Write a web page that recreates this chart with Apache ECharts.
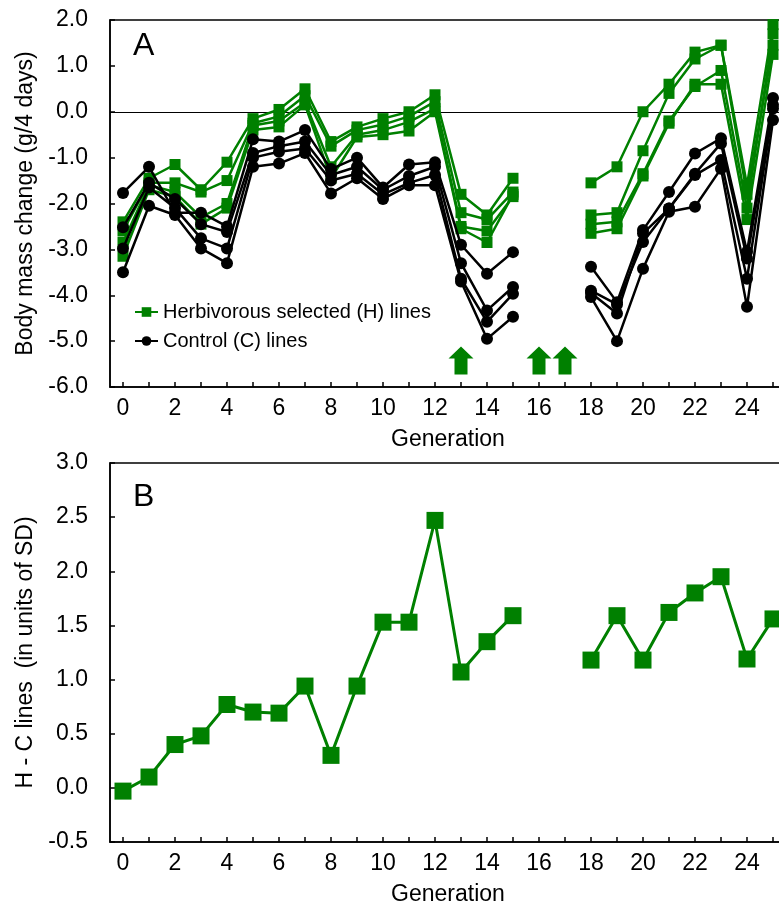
<!DOCTYPE html>
<html>
<head>
<meta charset="utf-8">
<script src="https://cdn.jsdelivr.net/npm/echarts@6/dist/echarts.min.js"></script>
<style>
html,body{margin:0;padding:0;background:#fff;}
#chart{width:779px;height:915px;}
</style>
</head>
<body>
<div id="chart"></div>
<script>
// ---- Data ----
const generations = ['0','1','2','3','4','5','6','7','8','9','10','11','12','13','14','15','16','17','18','19','20','21','22','23','24','25'];

// Panel A: herbivorous selected (H) lines, g/4 days (null = not measured)
const H1 = [-2.40,-1.45,-1.15,-1.70,-1.10,-0.15, 0.05, 0.50,-0.65,-0.33,-0.15, 0.00, 0.37,-1.80,-2.25,-1.45,null,null,-1.55,-1.20, 0.00, 0.60, 1.30, 1.45,-1.60, 1.90];
const H2 = [-2.60,-1.55,-1.55,-1.75,-1.50,-0.25,-0.10, 0.35,-0.75,-0.40,-0.28,-0.10, 0.22,-2.20,-2.35,-1.75,null,null,-2.25,-2.20,-0.85, 0.40, 1.15, 1.45,-1.80, 1.45];
const H3 = [-2.85,-1.60,-1.75,-2.30,-2.00,-0.30,-0.20, 0.20,-1.20,-0.50,-0.40,-0.22, 0.07,-2.50,-2.60,-1.85,null,null,-2.45,-2.40,-1.35,-0.20, 0.55, 0.90,-2.10, 1.70];
const H4 = [-3.15,-1.70,-1.85,-2.45,-2.10,-0.40,-0.33, 0.15,-1.45,-0.55,-0.50,-0.42, 0.00,-2.55,-2.85,-1.80,null,null,-2.65,-2.55,-1.40,-0.25, 0.60, 0.60,-2.35, 1.25];

// Panel A: control (C) lines
const C1 = [-1.77,-1.20,-2.20,-2.20,-2.50,-0.60,-0.65,-0.40,-1.25,-1.00,-1.65,-1.15,-1.10,-2.90,-3.53,-3.06,null,null,-3.38,-4.15,-2.58,-1.75,-0.91,-0.58,-3.05, 0.30];
const C2 = [-2.52,-1.55,-1.90,-2.45,-2.62,-0.90,-0.75,-0.65,-1.38,-1.20,-1.70,-1.40,-1.20,-3.30,-4.33,-3.82,null,null,-3.90,-4.20,-2.84,-2.11,-1.35,-0.69,-3.20, 0.15];
const C3 = [-2.98,-1.65,-2.10,-2.76,-2.98,-1.00,-0.87,-0.80,-1.50,-1.35,-1.80,-1.55,-1.38,-3.64,-4.58,-3.97,null,null,-3.95,-4.40,-2.65,-2.11,-1.38,-1.05,-3.64, 0.07];
const C4 = [-3.50,-2.05,-2.25,-2.98,-3.30,-1.20,-1.13,-0.90,-1.78,-1.45,-1.90,-1.60,-1.60,-3.70,-4.95,-4.47,null,null,-4.04,-5.00,-3.42,-2.18,-2.07,-1.24,-4.25,-0.18];

// Panel B: H - C difference in units of SD
const diffSD = [-0.03,0.10,0.40,0.48,0.77,0.70,0.69,0.94,0.30,0.94,1.53,1.53,2.47,1.07,1.35,1.59,null,null,1.18,1.59,1.18,1.62,1.80,1.95,1.19,1.56];

// Generations marked with arrows
const arrowGenerations = ['13','16','17'];

// Tick values
const yTicksA = [-6,-5,-4,-3,-2,-1,0,1,2];
const yTicksB = [-0.5,0,0.5,1,1.5,2,2.5,3];

// ---- Chart ----
const GREEN = '#008000';
const BLACK = '#000000';
const FONT = 'Liberation Sans, Arial, sans-serif';
const chart = echarts.init(document.getElementById('chart'), null, {renderer:'canvas'});

const nameH = 'Herbivorous selected (H) lines';
const nameC = 'Control (C) lines';

function xAxisFor(gridIndex){
  return {
    type:'category', gridIndex, data: generations, boundaryGap:true,
    name:'Generation', nameLocation:'middle', nameGap:41,
    nameTextStyle:{fontFamily:FONT,fontSize:23,color:'#000'},
    axisLine:{show:true,onZero:false,lineStyle:{color:'#000',width:1.5}},
    axisTick:{show:true,inside:true,length:5,alignWithLabel:true,interval:0,lineStyle:{color:'#000',width:1.5}},
    axisLabel:{interval:1,margin:10,fontFamily:FONT,fontSize:23,color:'#000',hideOverlap:false},
    splitLine:{show:false}
  };
}
function yAxisFor(gridIndex, ticks, name){
  return {
    type:'value', gridIndex, min:ticks[0], max:ticks[ticks.length-1], interval:ticks[1]-ticks[0],
    name, nameLocation:'middle', nameGap:73, nameRotate:90,
    nameTextStyle:{fontFamily:FONT,fontSize:23,color:'#000'},
    axisLine:{show:true,onZero:false,lineStyle:{color:'#000',width:1.5}},
    axisTick:{show:true,inside:true,length:5,lineStyle:{color:'#000',width:1.5}},
    axisLabel:{margin:22,fontFamily:FONT,fontSize:23,color:'#000',formatter:v=>v.toFixed(1)},
    splitLine:{show:false}
  };
}

function hSeries(data, first){
  const s = {
    type:'line', name:nameH, xAxisIndex:0, yAxisIndex:0, data,
    symbol:'rect', symbolSize:11, showAllSymbol:true,
    lineStyle:{color:GREEN,width:2.5}, itemStyle:{color:GREEN},
    z:2, animation:false
  };
  if(first){
    s.markLine = {silent:true, symbol:'none', label:{show:false},
      lineStyle:{color:'#000',width:1.2,type:'solid'}, data:[{yAxis:0}], z:1};
  }
  return s;
}
function cSeries(data){
  return {
    type:'line', name:nameC, xAxisIndex:0, yAxisIndex:0, data,
    symbol:'circle', symbolSize:12, showAllSymbol:true,
    lineStyle:{color:BLACK,width:2.5}, itemStyle:{color:BLACK},
    z:3, animation:false
  };
}

const arrowPath = 'path://M12.5,0 L25,12 L19,12 L19,28 L6,28 L6,12 L0,12 Z';
const ARROW_LEVEL = -5.42;

const option = {
  animation:false,
  backgroundColor:'#fff',
  textStyle:{fontFamily:FONT},
  grid:[
    {left:110, top:20, height:367, width:676, show:true, borderColor:'#000', borderWidth:1.5, containLabel:false, outerBoundsMode:'none'},
    {left:110, top:463, height:379, width:676, show:true, borderColor:'#000', borderWidth:1.5, containLabel:false, outerBoundsMode:'none'}
  ],
  xAxis:[xAxisFor(0), xAxisFor(1)],
  yAxis:[yAxisFor(0, yTicksA, 'Body mass change (g/4 days)'), yAxisFor(1, yTicksB, 'H - C lines  (in units of SD)')],
  legend:{
    data:[nameH, nameC], orient:'vertical', left:134, top:302, itemGap:9, padding:0,
    itemWidth:23, itemHeight:12,
    textStyle:{fontFamily:FONT,fontSize:20,color:'#000'}
  },
  graphic:[
    {type:'text', left:133, top:30, style:{text:'A', font:'32px '+FONT, fill:'#000'}},
    {type:'text', left:133, top:481, style:{text:'B', font:'32px '+FONT, fill:'#000'}}
  ],
  series:[
    hSeries(H1,true), hSeries(H2), hSeries(H3), hSeries(H4),
    cSeries(C1), cSeries(C2), cSeries(C3), cSeries(C4),
    {
      type:'scatter', name:'arrows', xAxisIndex:0, yAxisIndex:0,
      data: arrowGenerations.map(g=>[g, ARROW_LEVEL]),
      symbol:arrowPath, symbolSize:[25,28], itemStyle:{color:GREEN,opacity:1}, z:4, silent:true
    },
    {
      type:'line', name:'H - C', xAxisIndex:1, yAxisIndex:1, data:diffSD,
      symbol:'rect', symbolSize:17, showAllSymbol:true,
      lineStyle:{color:GREEN,width:3}, itemStyle:{color:GREEN}, z:2
    }
  ]
};
chart.setOption(option);
</script>
</body>
</html>
